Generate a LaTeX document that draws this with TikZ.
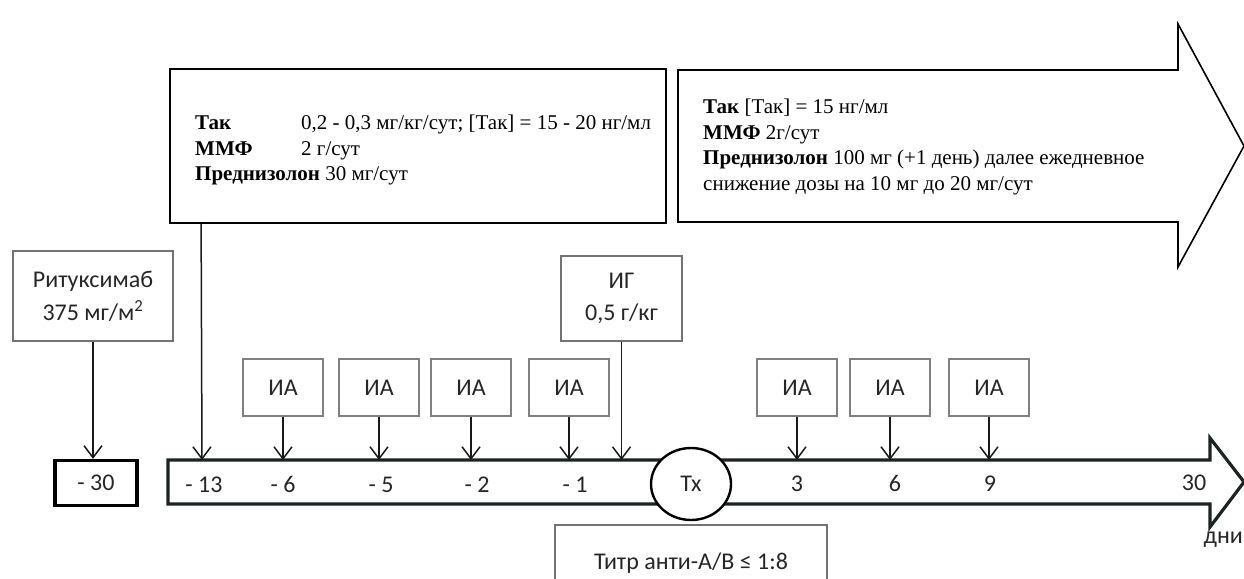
\documentclass[tikz,border=0pt]{standalone}
\usepackage{fontspec}
\setmainfont{Liberation Serif}
\newfontfamily\calfont{Carlito}[Numbers=Lining]
\usetikzlibrary{arrows.meta,shapes.geometric}
\definecolor{ink}{RGB}{28,36,32}
\begin{document}
\begin{tikzpicture}[x=1pt,y=-1pt,
  serif/.style={font=\fontsize{21}{25.5}\selectfont},
  sans/.style={font=\calfont\fontsize{24}{32}\selectfont, text=black!85},
  iabox/.style={draw=black!50, line width=1.1pt, minimum width=80pt, minimum height=57pt, inner sep=0pt, sans},
  greybox/.style={draw=black!55, line width=1.3pt, inner sep=0pt, align=center, sans},
  mainbox/.style={draw=black, line width=1.8pt, inner sep=0pt},
  daylabel/.style={sans, inner sep=0pt, anchor=base},
  arr/.style={line width=1.5pt, draw=black!90, -{Straight Barb[length=12pt,width=18pt,line width=1.5pt]}}
]
\useasboundingbox (0,0) rectangle (1244,578);

% ---- top-left regimen box
\node[mainbox, minimum width=496pt, minimum height=154pt] (tlbox) at (418,146) {};
\node[serif, anchor=west, align=left, inner sep=0pt] (tltext) at (195,150)
  {\makebox[106pt][l]{\textbf{Так}}0,2 - 0,3 мг/кг/сут; [Так] = 15 - 20 нг/мл\\
   \makebox[106pt][l]{\textbf{ММФ}}2 г/сут\\
   \textbf{Преднизолон} 30 мг/сут};

% ---- big arrow regimen
\draw[line width=1.6pt, fill=white] (678,70) -- (1178,70) -- (1178,24) -- (1244,146)
  -- (1178,267) -- (1178,222) -- (678,222) -- cycle;
\node[serif, anchor=west, align=left, inner sep=0pt] (artext) at (703,147)
  {\textbf{Так} [Так] = 15 нг/мл\\
   \textbf{ММФ} 2г/сут\\
   \textbf{Преднизолон} 100 мг (+1 день) далее ежедневное\\
   снижение дозы на 10 мг до 20 мг/сут};

% ---- timeline band
\draw[ink, line width=3.2pt, line join=miter] (168,460) -- (1210,460) -- (1210,438) -- (1244,482)
  -- (1210,527) -- (1210,504) -- (168,504) -- cycle;
\coordinate (bandtop) at (0,460);
\node[ellipse, draw=black, line width=2.4pt, fill=white, minimum width=80pt, minimum height=72pt, inner sep=0pt, sans] (tx) at (691,484) {Tx};

% ---- -30 box and rituximab
\node[draw=black, line width=3.2pt, minimum width=82pt, minimum height=45pt, inner sep=0pt, sans] (m30) at (96,483) {- 30};
\node[greybox, minimum width=160pt, minimum height=90pt, font=\calfont\fontsize{24}{33}\selectfont] (rit) at (93,296)
  {Ритуксимаб\\375 мг/м\textsuperscript{2}};
\draw[arr] (rit.south) -- (rit.south |- m30.north);

% ---- IG box
\node[greybox, minimum width=121pt, minimum height=85pt] (ig) at (621.5,298.5) {ИГ\\0,5 г/кг};
\draw[arr] (ig.south) -- (ig.south |- bandtop);

% ---- connector from top-left box
\coordinate (t13) at (202,460);
\draw[arr] ([xshift=32pt]tlbox.south west) -- (t13);

% ---- IA boxes
\node[iabox] (ia1) at (283,387.5) {ИА};
\node[iabox] (ia2) at (379,387.5) {ИА};
\node[iabox] (ia3) at (471,387.5) {ИА};
\node[iabox] (ia4) at (569,387.5) {ИА};
\node[iabox] (ia5) at (797,387.5) {ИА};
\node[iabox] (ia6) at (890,387.5) {ИА};
\node[iabox] (ia7) at (989,387.5) {ИА};
\foreach \n in {ia1,ia2,ia3,ia4,ia5,ia6,ia7}
  \draw[arr] (\n.south) -- (\n.south |- bandtop);

% ---- day labels
\node[daylabel] (d13) at (204,492) {- 13};
\node[daylabel] (d6) at (283,492) {- 6};
\node[daylabel] (d5) at (381,492) {- 5};
\node[daylabel] (d2) at (477,492) {- 2};
\node[daylabel] (d1) at (575,492) {- 1};
\node[daylabel] (p3) at (797,491) {3};
\node[daylabel] (p6) at (895,491) {6};
\node[daylabel] (p9) at (990,491) {9};
\node[daylabel] (p30) at (1194,490) {30};
\node[sans, inner sep=0pt, anchor=east] (days) at (1243,540) {дни};

% ---- titre box
\node[greybox, minimum width=272pt, minimum height=76pt] (titr) at (691,563) {Титр анти-A/B ≤ 1:8};
\end{tikzpicture}
\end{document}
